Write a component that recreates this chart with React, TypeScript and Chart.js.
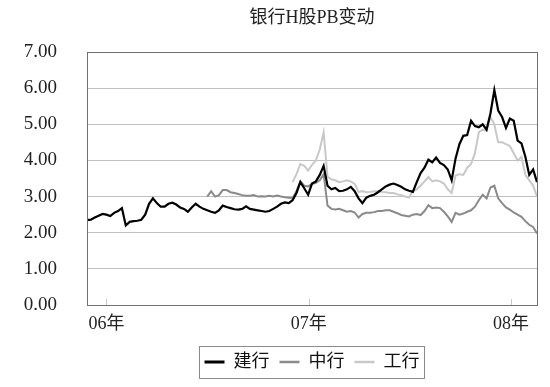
import React, { useEffect, useRef } from 'react';
import { Chart, registerables } from 'chart.js';

Chart.register(...registerables);

const TITLE = '银行H股PB变动';
const SERIES_NAMES = ['建行', '中行', '工行'];
const SERIES_COLORS = ['#000000', '#8a8a8a', '#c8c8c8'];
const START_DATE = '2005-11-27';
const STEP_DAYS = 7;
const YEAR_TICKS = ['2006-01-01', '2007-01-01', '2008-01-01'];
const Y_MIN = 0;
const Y_MAX = 7;

// 建行 (weekly)
const jianhang = [
  2.35, 2.36, 2.42, 2.47, 2.52, 2.5, 2.46, 2.55, 2.6, 2.68,
  2.2, 2.3, 2.32, 2.33, 2.36, 2.5, 2.8, 2.95, 2.82, 2.72,
  2.72, 2.8, 2.83, 2.78, 2.7, 2.66, 2.58, 2.7, 2.8, 2.72,
  2.66, 2.62, 2.58, 2.55, 2.62, 2.75, 2.71, 2.68, 2.65, 2.64,
  2.66, 2.73, 2.66, 2.64, 2.62, 2.6, 2.58, 2.6, 2.66, 2.72,
  2.8, 2.84, 2.82, 2.9, 3.1, 3.4, 3.23, 3.05, 3.36, 3.42,
  3.6, 3.85, 3.3, 3.2, 3.24, 3.15, 3.16, 3.2, 3.27, 3.15,
  2.95, 2.82, 2.97, 3.02, 3.05, 3.12, 3.2, 3.28, 3.33, 3.36,
  3.32, 3.27, 3.2, 3.16, 3.13, 3.4, 3.65, 3.8, 4.02, 3.95,
  4.08, 3.93, 3.87, 3.75, 3.45, 4.05, 4.45, 4.68, 4.7, 5.1,
  4.95, 4.92, 5.0, 4.85, 5.3, 5.95, 5.38, 5.2, 4.9, 5.16,
  5.1, 4.55, 4.47, 4.1, 3.6, 3.75, 3.4,
];

// 中行 (weekly)
const zhonghang = [
  null, null, null, null, null, null, null, null, null, null,
  null, null, null, null, null, null, null, null, null, null,
  null, null, null, null, null, null, null, null, null, null,
  null,
  3.0, 3.15, 3.0, 3.04, 3.18, 3.18, 3.12, 3.1, 3.07, 3.04,
  3.02, 3.02, 3.04, 3.0, 3.01, 3.0, 3.02, 3.0, 3.03, 3.0,
  2.98, 2.97, 2.96, 3.15, 3.42, 3.3, 3.28, 3.35, 3.38, 3.45,
  3.62, 2.75, 2.66, 2.64, 2.66, 2.62, 2.58, 2.6, 2.56, 2.42,
  2.52, 2.55, 2.55, 2.57, 2.6, 2.6, 2.62, 2.62, 2.58, 2.54,
  2.49, 2.47, 2.45, 2.5, 2.52, 2.49, 2.6, 2.76, 2.68, 2.7,
  2.68, 2.58, 2.45, 2.3, 2.55, 2.5, 2.53, 2.58, 2.62, 2.72,
  2.9, 3.05, 2.95, 3.25, 3.3, 2.95, 2.82, 2.7, 2.64, 2.56,
  2.5, 2.44, 2.32, 2.22, 2.16, 1.98,
];

// 工行 (weekly)
const gonghang = [
  null, null, null, null, null, null, null, null, null, null,
  null, null, null, null, null, null, null, null, null, null,
  null, null, null, null, null, null, null, null, null, null,
  null, null, null, null, null, null, null, null, null, null,
  null, null, null, null, null, null, null, null, null, null,
  null, null, null,
  3.4, 3.62, 3.9, 3.85, 3.72, 3.88, 4.0, 4.3, 4.78, 3.55,
  3.48, 3.45, 3.4, 3.42, 3.45, 3.42, 3.35, 3.13, 3.15, 3.12,
  3.13, 3.15, 3.15, 3.13, 3.12, 3.1, 3.1, 3.06, 3.04, 3.0,
  2.97, 3.15, 3.2, 3.3, 3.42, 3.54, 3.42, 3.45, 3.42, 3.36,
  3.2, 3.1, 3.58, 3.62, 3.6, 3.8, 3.9, 4.2, 4.78, 4.85,
  4.82, 5.2, 5.0, 4.5, 4.5, 4.45, 4.4, 4.2, 4.0, 4.1,
  3.6, 3.45, 3.3, 3.0,
];

const SERIES = [jianhang, zhonghang, gonghang];
const LINE_WIDTHS = [2.2, 2, 2];

const FONT_FAMILY = '"Liberation Serif", "Noto Sans CJK SC", serif';

const framePlugin = {
  id: 'frameAndLegendBox',
  afterDatasetsDraw(chart: any) {
    const { ctx, chartArea: a } = chart;
    const xs = chart.scales.x;
    ctx.save();
    ctx.strokeStyle = '#c8c8c8';
    ctx.lineWidth = 1;
    xs.ticks.forEach((t: any) => {
      const px = Math.round(xs.getPixelForValue(t.value)) + 0.5;
      ctx.beginPath();
      ctx.moveTo(px, a.bottom);
      ctx.lineTo(px, a.bottom - 6);
      ctx.stroke();
    });
    ctx.strokeStyle = '#707070';
    ctx.strokeRect(
      Math.round(a.left) + 0.5,
      Math.round(a.top) + 0.5,
      Math.round(a.right - a.left),
      Math.round(a.bottom - a.top)
    );
    ctx.restore();
  },
  afterDraw(chart: any) {
    const lg = chart.legend;
    if (!lg || !lg.legendHitBoxes || !lg.legendHitBoxes.length) return;
    const boxes = lg.legendHitBoxes;
    let l = Infinity, r = -Infinity, t = Infinity, b = -Infinity;
    boxes.forEach((h: any) => {
      l = Math.min(l, h.left);
      r = Math.max(r, h.left + h.width);
      t = Math.min(t, h.top);
      b = Math.max(b, h.top + h.height);
    });
    const ctx = chart.ctx;
    ctx.save();
    ctx.strokeStyle = '#8a8a8a';
    ctx.lineWidth = 1;
    ctx.strokeRect(Math.round(l - 6) + 0.5, Math.round(t - 7) + 0.5, Math.round(r - l + 10), Math.round(b - t + 14));
    ctx.restore();
  },
};

export default function App() {
  const ref = useRef<HTMLCanvasElement | null>(null);

  useEffect(() => {
    if (!ref.current) return;
    const start = Date.parse(START_DATE);
    const dayMs = 86400000;
    const xs = jianhang.map((_, i) => start + i * STEP_DAYS * dayMs);
    const datasets = SERIES.map((vals, si) => ({
      label: SERIES_NAMES[si],
      data: vals.map((v, i) => ({ x: xs[i], y: v })),
      borderColor: SERIES_COLORS[si],
      backgroundColor: SERIES_COLORS[si],
      borderWidth: LINE_WIDTHS[si],
      pointRadius: 0,
      pointHoverRadius: 0,
      pointBorderColor: SERIES_COLORS[si],
      pointBackgroundColor: SERIES_COLORS[si],
      pointBorderWidth: si === 0 ? 3 : 2.5,
      tension: 0,
      spanGaps: false,
    }));

    const chart = new Chart(ref.current, {
      type: 'line',
      data: { datasets },
      plugins: [framePlugin],
      options: {
        responsive: false,
        animation: false,
        events: [],
        layout: { padding: { left: 0, right: 13, top: 0, bottom: 6 } },
        plugins: {
          title: {
            display: true,
            text: TITLE,
            fullSize: false,
            color: '#222',
            font: { family: FONT_FAMILY, size: 18, weight: 'normal' },
            padding: { top: 7, bottom: 23.4 },
          },
          legend: {
            display: true,
            position: 'bottom',
            fullSize: false,
            labels: {
              usePointStyle: true,
              pointStyle: 'line',
              pointStyleWidth: 20,
              padding: 10,
              color: '#111',
              font: { family: FONT_FAMILY, size: 18 },
            },
          },
          tooltip: { enabled: false },
        },
        scales: {
          x: {
            type: 'linear',
            min: xs[0],
            max: xs[xs.length - 1],
            afterBuildTicks: (s: any) => {
              s.ticks = YEAR_TICKS.map((d) => ({ value: Date.parse(d) }));
            },
            afterFit: (s: any) => {
              s.height = 38;
            },
            grid: { display: false, drawTicks: false },
            border: { display: false },
            ticks: {
              autoSkip: false,
              maxRotation: 0,
              padding: 8,
              color: '#222',
              font: { family: FONT_FAMILY, size: 18 },
              callback: (v: any) => {
                const y = new Date(Number(v)).getUTCFullYear() % 100;
                return (y < 10 ? '0' + y : String(y)) + '年';
              },
            },
          },
          y: {
            min: Y_MIN,
            max: Y_MAX,
            afterFit: (s: any) => {
              s.width = 87;
            },
            grid: { color: '#c0c0c0', lineWidth: 1, drawTicks: false },
            border: { display: false },
            ticks: {
              stepSize: 1,
              padding: 30,
              color: '#222',
              font: { family: FONT_FAMILY, size: 19 },
              callback: (v: any) => Number(v).toFixed(2),
            },
          },
        },
      },
    });
    return () => chart.destroy();
  }, []);

  return (
    <div style={{ position: 'fixed', left: 0, top: 0, width: 550, height: 387, background: '#fff' }}>
      <canvas ref={ref} width={550} height={387} />
    </div>
  );
}
